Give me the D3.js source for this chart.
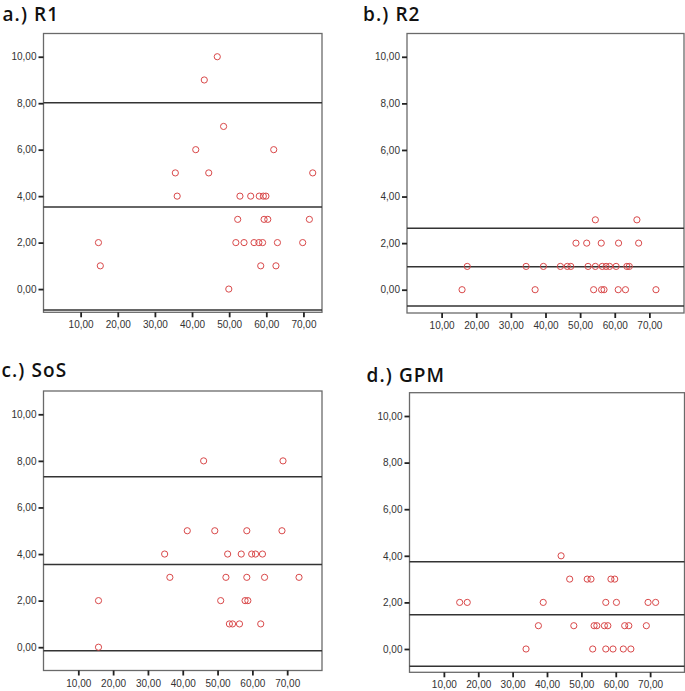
<!DOCTYPE html>
<html>
<head>
<meta charset="utf-8">
<script src="https://cdn.jsdelivr.net/npm/d3@7"></script>
<style>
html,body{margin:0;padding:0;background:#fff;}
svg{display:block;}
</style>
</head>
<body>
<svg id="chart" width="685" height="691"></svg>
<script>
// ---- data ----
const panelTitles = ["a.) R1", "b.) R2", "c.) SoS", "d.) GPM"];
const yTicks = [0, 2, 4, 6, 8, 10];
const xTicks = [10, 20, 30, 40, 50, 60, 70];

const r1X = [46.8, 43.3, 48.5, 41.0, 62.0, 35.5, 44.5, 72.5, 36.0, 52.9, 55.8, 58.1, 59.2, 59.9,
             52.3, 59.4, 60.4, 71.6, 14.8, 51.8, 54.0, 56.7, 58.0, 59.0, 63.0, 69.8, 15.3, 58.5, 62.6, 49.9];
const r1Y = [10, 9, 7, 6, 6, 5, 5, 5, 4, 4, 4, 4, 4, 4,
             3, 3, 3, 3, 2, 2, 2, 2, 2, 2, 2, 2, 1, 1, 1, 0];
const r1Lines = [8.02, 3.53, -0.9];

const r2X = [54.4, 66.4, 48.8, 51.9, 56.1, 61.1, 66.9,
             17.4, 34.4, 39.4, 44.3, 46.3, 47.3, 52.3, 54.4, 56.4, 57.5, 58.5, 60.4, 63.5, 64.2,
             15.9, 37.0, 53.9, 56.2, 56.9, 61.0, 63.1, 71.9];
const r2Y = [3, 3, 2, 2, 2, 2, 2,
             1, 1, 1, 1, 1, 1, 1, 1, 1, 1, 1, 1, 1, 1,
             0, 0, 0, 0, 0, 0, 0, 0];
const r2Lines = [2.64, 0.99, -0.70];

const sosX = [46.0, 68.8, 41.3, 49.2, 58.4, 68.5, 34.8, 52.9, 56.8, 59.8, 60.9, 62.9,
              36.3, 52.4, 58.4, 63.5, 73.4, 15.8, 50.9, 57.9, 58.7, 53.4, 54.3, 56.3, 62.4, 15.8];
const sosY = [8, 8, 5, 5, 5, 5, 4, 4, 4, 4, 4, 4,
              3, 3, 3, 3, 3, 2, 2, 2, 2, 1, 1, 1, 1, 0];
const sosLines = [7.32, 3.55, -0.15];

const gpmX = [44.1, 46.6, 51.7, 52.8, 58.6, 59.7, 14.6, 16.8, 38.9, 57.1, 60.2, 69.4, 71.6,
              37.5, 47.8, 53.7, 54.5, 56.7, 57.7, 62.6, 63.8, 68.9,
              33.9, 53.3, 57.1, 59.2, 62.2, 64.4];
const gpmY = [4, 3, 3, 3, 3, 3, 2, 2, 2, 2, 2, 2, 2,
              1, 1, 1, 1, 1, 1, 1, 1, 1,
              0, 0, 0, 0, 0, 0];
const gpmLines = [3.75, 1.47, -0.74];

const xMax = [75, 80, 80, 80];

// ---- layout (not data) ----
const boxes = [
  {l: 43.5, r: 322, t: 33.5, b: 312.3, tx: 2.5, ty: 20.5},
  {l: 407, r: 684, t: 33.5, b: 313, tx: 363, ty: 20.7},
  {l: 43.5, r: 322, t: 391, b: 670.5, tx: 1.5, ty: 376.5},
  {l: 409.5, r: 684.5, t: 392.7, b: 672.3, tx: 366.5, ty: 381.7}
];

const series = [
  {x: r1X, y: r1Y, lines: r1Lines},
  {x: r2X, y: r2Y, lines: r2Lines},
  {x: sosX, y: sosY, lines: sosLines},
  {x: gpmX, y: gpmY, lines: gpmLines}
];

const loc = d3.formatLocale({decimal: ",", thousands: ".", grouping: [3], currency: ["", ""]});
const fmt = loc.format(".2f");

const svg = d3.select("#chart");

series.forEach((s, i) => {
  const bx = boxes[i];
  const x = d3.scaleLinear().domain([0, xMax[i]]).range([bx.l, bx.r]);
  const y = d3.scaleLinear().domain([-1, 11]).range([bx.b, bx.t]);
  const g = svg.append("g");

  // title
  g.append("text")
    .attr("x", bx.tx).attr("y", bx.ty)
    .attr("font-family", "'Open Sans', 'Noto Sans', sans-serif")
    .attr("font-weight", 600)
    .attr("font-size", 19)
    .attr("letter-spacing", 1.1)
    .attr("fill", "#111")
    .text(panelTitles[i]);

  // frame
  g.append("rect")
    .attr("x", bx.l).attr("y", bx.t)
    .attr("width", bx.r - bx.l).attr("height", bx.b - bx.t)
    .attr("fill", "none").attr("stroke", "#6a6a6a").attr("stroke-width", 1.3);

  // y axis
  const yAxis = d3.axisLeft(y).tickValues(yTicks).tickFormat(fmt).tickSize(5).tickPadding(2);
  const ya = g.append("g").attr("transform", `translate(${bx.l},0)`).call(yAxis);
  ya.select(".domain").remove();
  ya.selectAll(".tick line").attr("stroke", "#222").attr("stroke-width", 1.8);
  ya.selectAll(".tick text")
    .attr("font-family", "'Liberation Sans', Arial, sans-serif")
    .attr("font-size", 10).attr("fill", "#333");

  // x axis
  const xAxis = d3.axisBottom(x).tickValues(xTicks).tickFormat(fmt).tickSize(5).tickPadding(4);
  const xa = g.append("g").attr("transform", `translate(0,${bx.b})`).call(xAxis);
  xa.select(".domain").remove();
  xa.selectAll(".tick line").attr("stroke", "#222").attr("stroke-width", 1.8);
  xa.selectAll(".tick text")
    .attr("font-family", "'Liberation Sans', Arial, sans-serif")
    .attr("font-size", 10).attr("fill", "#333");

  // reference lines
  g.selectAll("line.ref").data(s.lines).enter().append("line")
    .attr("class", "ref")
    .attr("x1", bx.l).attr("x2", bx.r)
    .attr("y1", d => y(d)).attr("y2", d => y(d))
    .attr("stroke", "#333").attr("stroke-width", 1.5);

  // points
  const pts = s.x.map((v, k) => ({x: v, y: s.y[k]}));
  g.selectAll("circle").data(pts).enter().append("circle")
    .attr("cx", d => x(d.x)).attr("cy", d => y(d.y))
    .attr("r", 3.1)
    .attr("fill", "none")
    .attr("stroke", "#d9494a")
    .attr("stroke-width", 1);
});
</script>
</body>
</html>
